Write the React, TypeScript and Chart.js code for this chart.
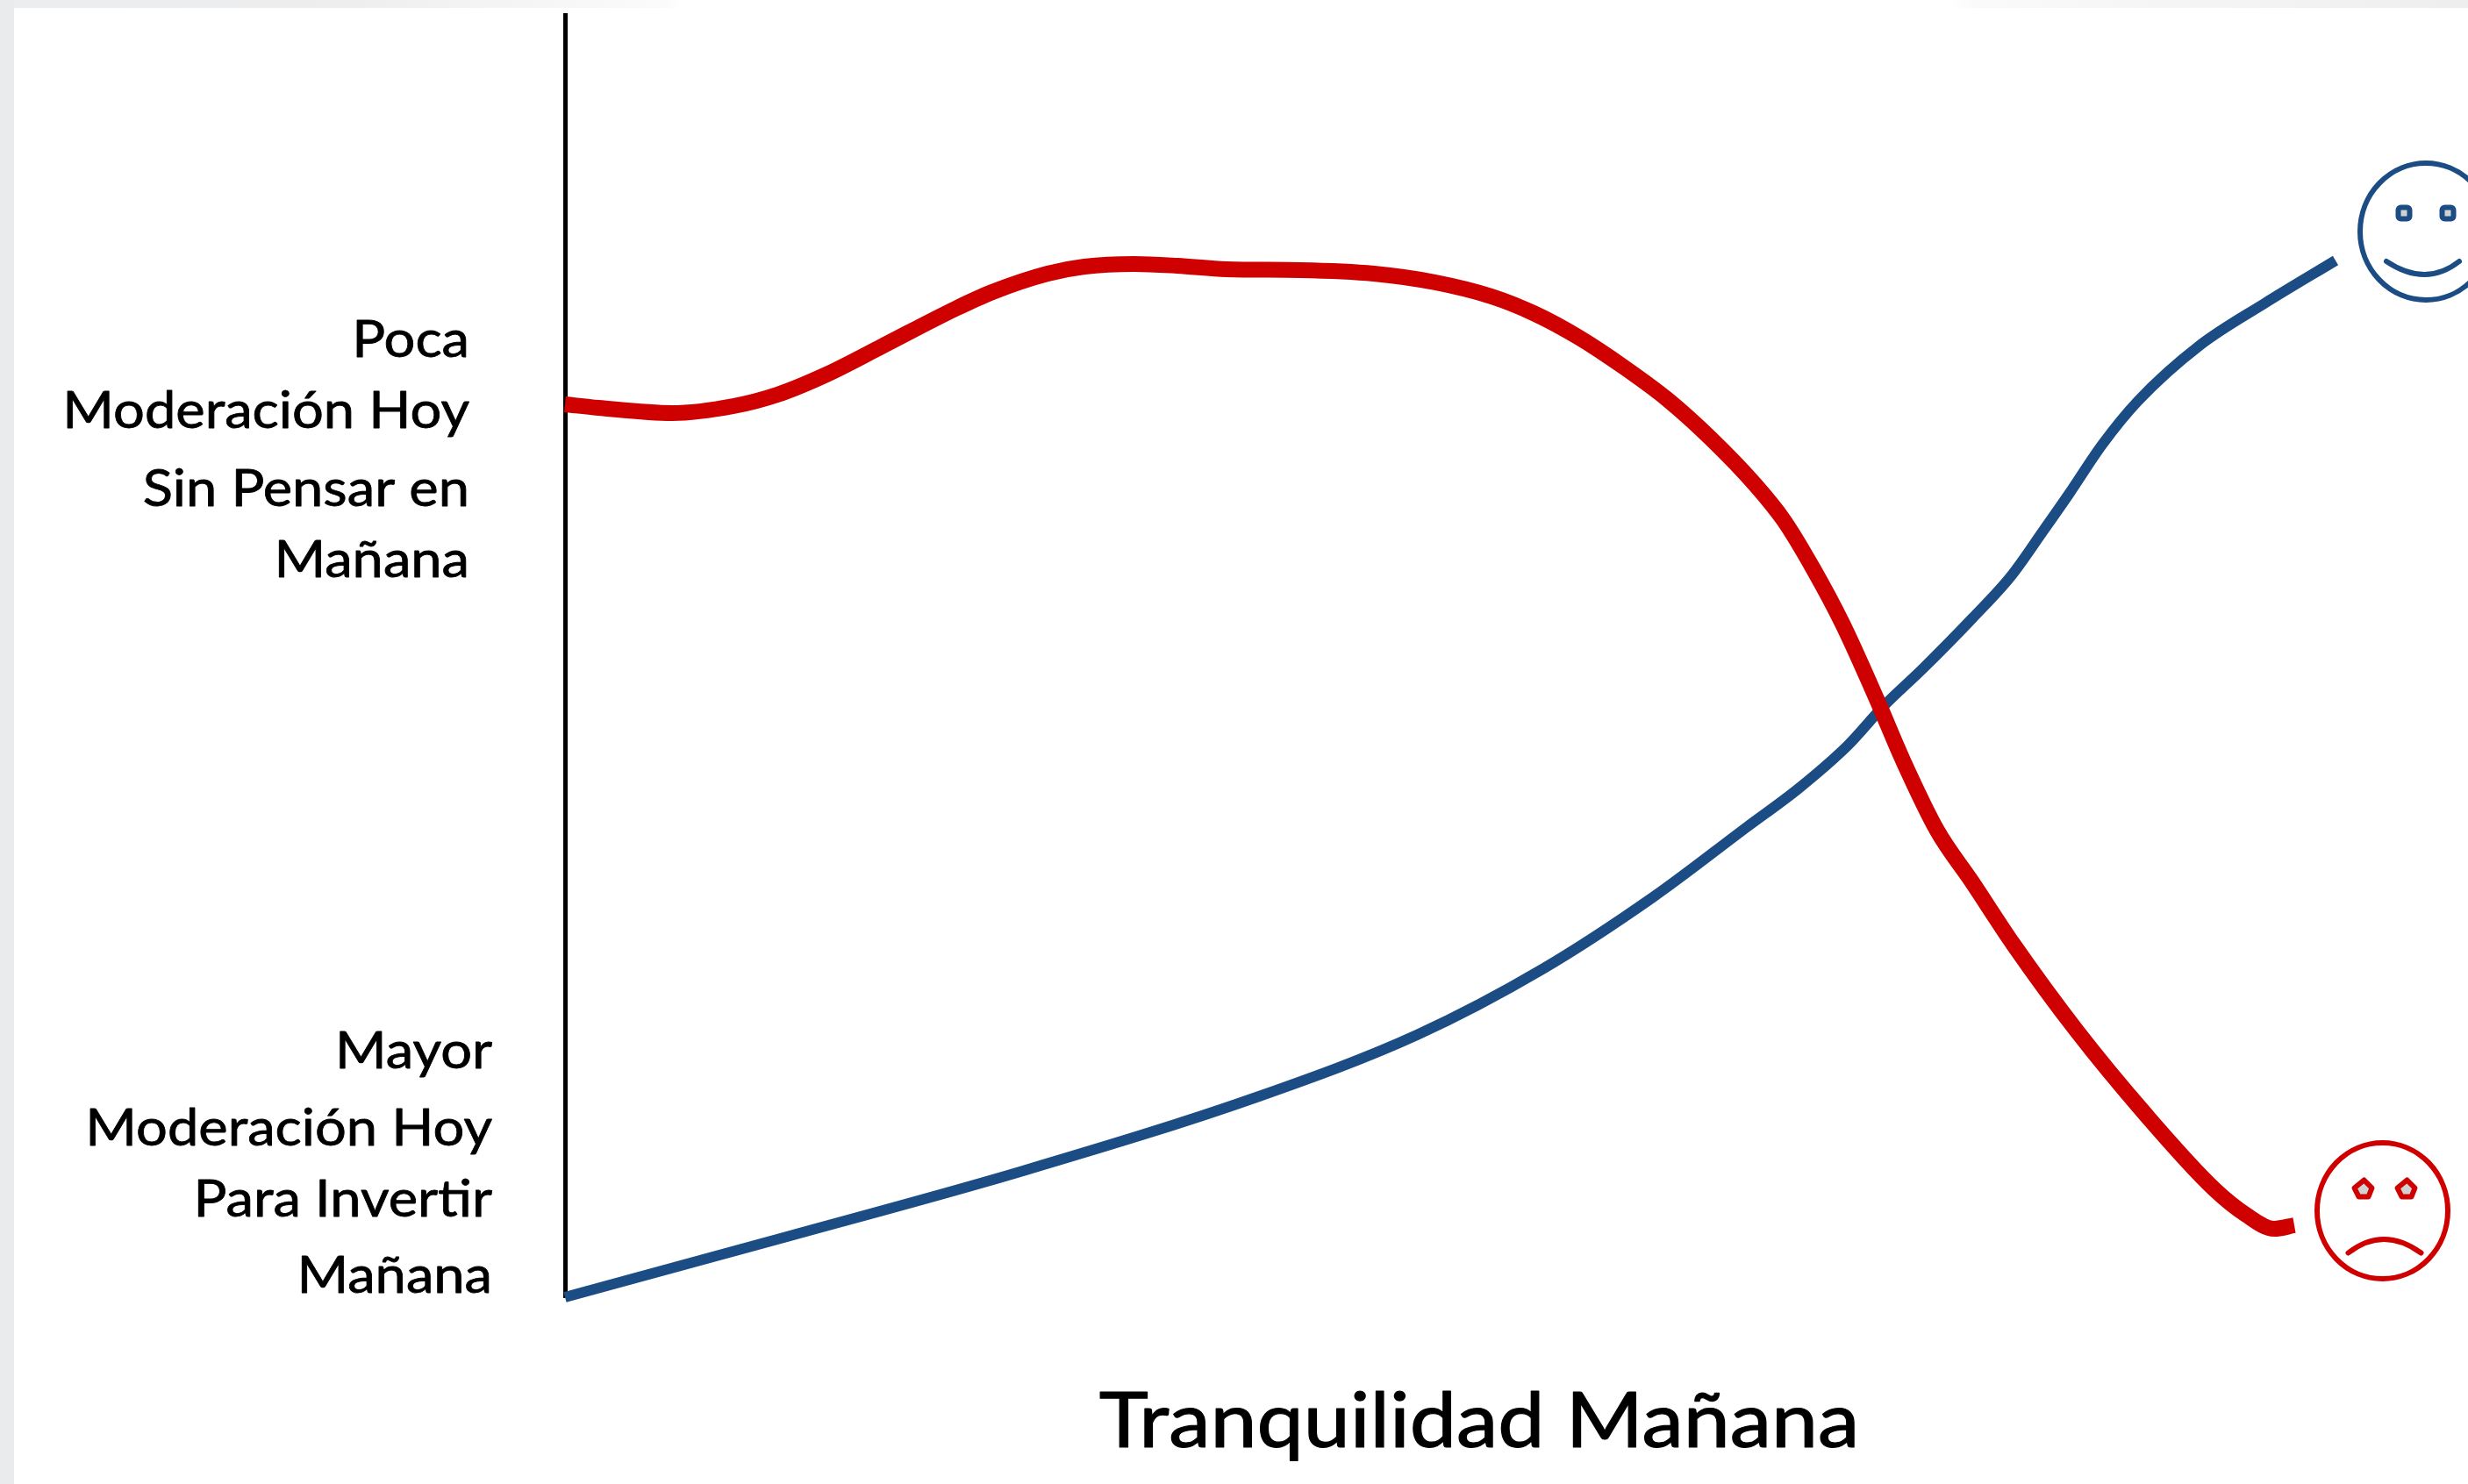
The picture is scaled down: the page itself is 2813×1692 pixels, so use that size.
import React, { useEffect, useRef } from "react";
import { Chart, registerables } from "chart.js";

Chart.register(...registerables);

// Abstract readings along the two axes (no numeric scale is printed on the original)
const redX = [0, 38, 122, 192, 242, 298, 361, 445, 487, 550, 592, 649, 698, 754, 838, 922, 992, 1056, 1106, 1156, 1206, 1256, 1306, 1356, 1389, 1423, 1456, 1495, 1525, 1564, 1604, 1651, 1722, 1801, 1880, 1916, 1948, 1971];
const redY = [1018, 1014, 1008, 1016, 1029, 1052, 1084, 1127, 1146, 1167, 1175, 1178, 1176, 1172, 1171, 1167, 1157, 1141, 1121, 1094, 1061, 1024, 979, 927, 886, 830, 768, 682, 612, 532, 473, 402, 305, 209, 123, 94, 78, 82];
const blueX = [0, 253, 522, 791, 971, 1114, 1240, 1347, 1406, 1462, 1502, 1548, 1604, 1648, 1685, 1715, 1752, 1793, 1863, 1937, 2018];
const blueY = [0, 69, 144, 229, 299, 374, 456, 536, 580, 629, 673, 717, 774, 822, 874, 917, 972, 1022, 1085, 1133, 1182];

const topLabelLines = ["Poca", "Moderación Hoy", "Sin Pensar en", "Mañana"];
const topLabelBaselines = [407, 488, 577, 658];
const bottomLabelLines = ["Mayor", "Moderación Hoy", "Para Invertir", "Mañana"];
const bottomLabelBaselines = [1218, 1306, 1387, 1474];
const xTitle = "Tranquilidad Mañana";

const BLUE = "#1b4c84";
const RED = "#cf0000";
const FONT = "Lato, 'Open Sans', sans-serif";

const toPoints = (xs: number[], ys: number[]) => xs.map((x, i) => ({ x, y: ys[i] }));

const backdrop = {
  id: "backdrop",
  beforeDraw(chart: any) {
    const { ctx, width, height } = chart;
    ctx.save();
    ctx.fillStyle = "#ffffff";
    ctx.fillRect(0, 0, width, height);
    const top = ctx.createLinearGradient(0, 0, width, 0);
    top.addColorStop(0, "#eaeced");
    top.addColorStop(0.14, "#eeeeef");
    top.addColorStop(0.27, "#fbfbfb");
    top.addColorStop(0.275, "#ffffff");
    top.addColorStop(0.79, "#ffffff");
    top.addColorStop(0.8, "#fafafa");
    top.addColorStop(1, "#eeeeef");
    ctx.fillStyle = top;
    ctx.fillRect(0, 0, width, 9);
    ctx.fillStyle = "#e9ebed";
    ctx.fillRect(0, 0, 16, height);
    ctx.restore();
  },
};

const annotate = {
  id: "annotate",
  afterDraw(chart: any) {
    const { ctx, scales } = chart;
    ctx.save();
    ctx.fillStyle = "#000000";
    ctx.strokeStyle = "#000000";
    ctx.textBaseline = "alphabetic";

    const text = (t: string, x: number, y: number, size: number, sx: number, align: string, weight: number) => {
      ctx.save();
      ctx.translate(x, y);
      ctx.scale(sx, 1);
      ctx.textAlign = align;
      ctx.font = `${size}px ${FONT}`;
      ctx.lineWidth = weight;
      ctx.lineJoin = "round";
      ctx.fillText(t, 0, 0);
      ctx.strokeText(t, 0, 0);
      ctx.restore();
    };
    topLabelLines.forEach((t, i) => text(t, 535, topLabelBaselines[i], 58, 1.09, "right", 0.8));
    bottomLabelLines.forEach((t, i) => text(t, 561, bottomLabelBaselines[i], 58, 1.09, "right", 0.8));
    text(xTitle, 1686, 1650, 88, 1.08, "center", 1.2);

    const face = (cx: number, cy: number, rx: number, ry: number, color: string, happy: boolean) => {
      ctx.strokeStyle = color;
      ctx.lineWidth = 6;
      ctx.lineCap = "round";
      ctx.lineJoin = "round";
      ctx.beginPath();
      ctx.ellipse(cx, cy, rx, ry, 0, 0, Math.PI * 2);
      ctx.stroke();
      ctx.fillStyle = "#d0d1d3";
      const eyes = happy ? [-25, 25] : [-22, 27];
      eyes.forEach((dx) => {
        const ex = cx + dx;
        const ey = cy - (happy ? 21 : 25);
        ctx.beginPath();
        if (happy) {
          ctx.roundRect(ex - 6.5, ey - 6.5, 13, 13, 3);
        } else {
          ctx.moveTo(ex - 10, ey - 1);
          ctx.lineTo(ex + 1, ey - 10);
          ctx.lineTo(ex + 10, ey - 1);
          ctx.lineTo(ex + 6, ey + 9);
          ctx.lineTo(ex - 5, ey + 9);
          ctx.closePath();
        }
        ctx.fill();
        ctx.stroke();
      });
      ctx.beginPath();
      if (happy) {
        ctx.moveTo(cx - 45, cy + 34);
        ctx.quadraticCurveTo(cx, cy + 64, cx + 38, cy + 34);
      } else {
        ctx.moveTo(cx - 39, cy + 48);
        ctx.quadraticCurveTo(cx + 1, cy + 17, cx + 44, cy + 48);
      }
      ctx.stroke();
    };
    face(scales.x.getPixelForValue(2121), scales.y.getPixelForValue(1215), 75, 78, BLUE, true);
    face(scales.x.getPixelForValue(2071.5), scales.y.getPixelForValue(98.5), 74.5, 77.5, RED, false);
    ctx.restore();
  },
};

export default function App() {
  const ref = useRef<HTMLCanvasElement>(null);
  useEffect(() => {
    document.body.style.margin = "0";
    document.body.style.overflow = "hidden";
    const chart = new Chart(ref.current!, {
      type: "line",
      data: {
        datasets: [
          {
            label: "Poca moderación",
            data: toPoints(redX, redY),
            borderColor: RED,
            borderWidth: 18,
            pointRadius: 0,
            cubicInterpolationMode: "monotone",
            clip: false,
          },
          {
            label: "Mayor moderación",
            data: toPoints(blueX, blueY),
            borderColor: BLUE,
            borderWidth: 12,
            pointRadius: 0,
            cubicInterpolationMode: "monotone",
            clip: false,
          },
        ],
      },
      options: {
        responsive: false,
        animation: false,
        events: [],
        layout: { padding: { left: 644, top: 17, right: 0, bottom: 213 } },
        plugins: { legend: { display: false }, title: { display: false }, tooltip: { enabled: false } },
        scales: {
          x: {
            type: "linear",
            min: 0,
            max: 2169,
            display: true,
            grid: { display: false, drawTicks: false },
            ticks: { display: false },
            border: { display: false },
          },
          y: {
            type: "linear",
            min: 0,
            max: 1462,
            display: true,
            grid: { display: false, drawTicks: false },
            ticks: { display: false },
            border: { display: true, color: "#000000", width: 5 },
          },
        },
      },
      plugins: [backdrop, annotate],
    } as any);
    return () => chart.destroy();
  }, []);
  return <canvas ref={ref} width={2813} height={1692} style={{ display: "block" }} />;
}
